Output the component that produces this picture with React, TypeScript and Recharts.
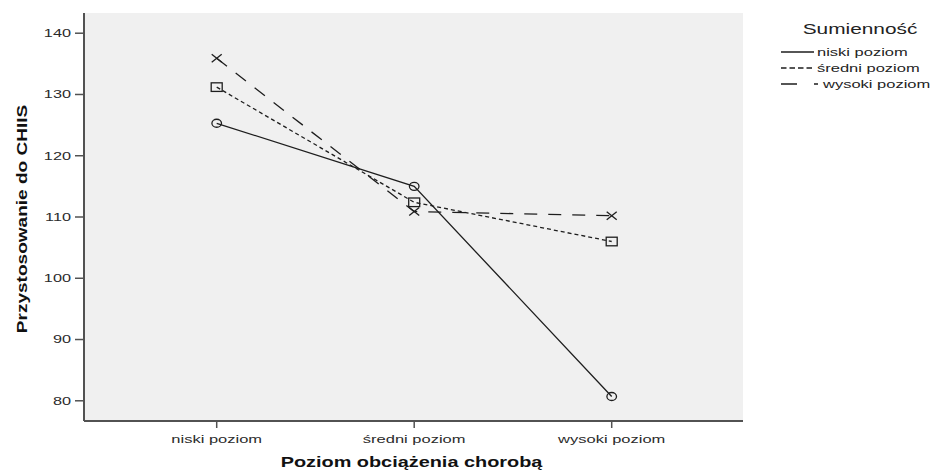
import React from 'react';
import { LineChart, Line, XAxis, YAxis, Legend, CartesianGrid } from 'recharts';

const categories = ['niski poziom', 'średni poziom', 'wysoki poziom'];
const niskiValues = [125.3, 115.0, 80.7];
const sredniValues = [131.2, 112.4, 106.0];
const wysokiValues = [135.9, 110.9, 110.2];
const yTicks = [80, 90, 100, 110, 120, 130, 140];
const yDomain: [number, number] = [76.7, 143.3];
const seriesKeys = ['niski', 'sredni', 'wysoki'];
const seriesNames = ['niski poziom', 'średni poziom', 'wysoki poziom'];
const legendTitle = 'Sumienność';
const xTitle = 'Poziom obciążenia chorobą';
const yTitle = 'Przystosowanie do CHIIS';

const data = categories.map((c, i) => ({
  cat: c,
  niski: niskiValues[i],
  sredni: sredniValues[i],
  wysoki: wysokiValues[i],
}));

const FONT = '"Liberation Sans", Arial, sans-serif';
const AXIS = '#525252';
const INK = '#1e1e1e';
const legendDash = ['0', '5.5 3', '16 17 4 10'];
const legendLineEnd = [39, 37, 43];
const legendTextX = [42, 42, 48];

function SText(props: any) {
  const { x, y, k = 1, size = 11, anchor = 'middle', bold = false, fill = '#2a2a2a', rotate = 0, children } = props;
  return (
    <g transform={`translate(${x},${y}) rotate(${rotate}) scale(${k},1)`}>
      <text
        x={0}
        y={0}
        textAnchor={anchor}
        dominantBaseline="central"
        fontFamily={FONT}
        fontSize={size}
        fontWeight={bold ? 'bold' : 'normal'}
        fill={fill}
      >
        {children}
      </text>
    </g>
  );
}

const renderXTick = (p: any) => (
  <SText x={p.x} y={p.y + 9} k={1.5} size={11} anchor="middle">
    {p.payload.value}
  </SText>
);

const renderYTick = (p: any) => (
  <SText x={p.x} y={p.y} k={1.48} size={11} anchor="end">
    {p.payload.value}
  </SText>
);

const renderXTitle = (p: any) => {
  const vb = p.viewBox || { x: 84, y: 421, width: 659, height: 51 };
  return (
    <SText x={vb.x + vb.width / 2 - 2} y={vb.y + 41} k={1.42} size={14} bold fill="#111">
      {xTitle}
    </SText>
  );
};

const renderYTitle = (p: any) => {
  const vb = p.viewBox || { x: 0, y: 13, width: 84, height: 408 };
  return (
    <SText x={22} y={vb.y + vb.height / 2 + 2} k={1.27} size={15} bold rotate={-90} fill="#111">
      {yTitle}
    </SText>
  );
};

const CircleDot = (p: any) => (
  <ellipse key={`c-${p.index}`} cx={p.cx} cy={p.cy} rx={4.8} ry={4} fill="none" stroke={INK} strokeWidth={1.3} />
);

const SquareDot = (p: any) => (
  <rect key={`s-${p.index}`} x={p.cx - 5.5} y={p.cy - 4.3} width={11} height={8.6} fill="none" stroke={INK} strokeWidth={1.3} />
);

const CrossDot = (p: any) => (
  <g key={`x-${p.index}`}>
    <line x1={p.cx - 5} y1={p.cy - 4} x2={p.cx + 5} y2={p.cy + 4} stroke={INK} strokeWidth={1.3} />
    <line x1={p.cx - 5} y1={p.cy + 4} x2={p.cx + 5} y2={p.cy - 4} stroke={INK} strokeWidth={1.3} />
  </g>
);

const renderLegend = (props: any) => {
  const payload = [...(props.payload || [])].sort(
    (a: any, b: any) => seriesKeys.indexOf(a.dataKey) - seriesKeys.indexOf(b.dataKey)
  );
  return (
    <svg width={170} height={80} style={{ display: 'block' }}>
      <SText x={85} y={11.5} k={1.49} size={14} anchor="middle" fill="#222">
        {legendTitle}
      </SText>
      {payload.map((entry: any, i: number) => {
        const idx = seriesKeys.indexOf(entry.dataKey);
        const j = idx >= 0 ? idx : i;
        const yy = 34 + 16 * i;
        return (
          <g key={`leg-${i}`}>
            <line
              x1={6}
              x2={legendLineEnd[j]}
              y1={yy}
              y2={yy}
              stroke={INK}
              strokeWidth={1.3}
              strokeDasharray={legendDash[j]}
            />
            <SText x={legendTextX[j]} y={yy} k={1.5} size={11} anchor="start" fill="#222">
              {entry.value}
            </SText>
          </g>
        );
      })}
    </svg>
  );
};

export default function App() {
  return (
    <div style={{ position: 'absolute', left: 0, top: 0, width: 945, height: 472, background: '#fff' }}>
      <LineChart width={945} height={472} data={data} margin={{ top: 13, right: 202, bottom: 0, left: 0 }}>
        <CartesianGrid fill="#f0f0f0" horizontal={false} vertical={false} />
        <XAxis
          dataKey="cat"
          type="category"
          height={51}
          padding={{ left: 132.7, right: 131.3 }}
          tickSize={7}
          tickMargin={2}
          tick={renderXTick}
          interval={0}
          axisLine={{ stroke: AXIS, strokeWidth: 2 }}
          tickLine={{ stroke: AXIS, strokeWidth: 1.5 }}
          label={{ content: renderXTitle }}
        />
        <XAxis
          xAxisId="top"
          orientation="top"
          type="number"
          domain={[0, 1]}
          height={0}
          tick={false}
          tickLine={false}
          axisLine={{ stroke: AXIS, strokeWidth: 2 }}
        />
        <YAxis
          type="number"
          domain={yDomain}
          ticks={yTicks}
          interval={0}
          width={84}
          tickSize={9}
          tickMargin={4}
          tick={renderYTick}
          axisLine={{ stroke: AXIS, strokeWidth: 2 }}
          tickLine={{ stroke: AXIS, strokeWidth: 1.5 }}
          label={{ content: renderYTitle }}
        />
        <YAxis
          yAxisId="right"
          orientation="right"
          type="number"
          domain={yDomain}
          width={0}
          tick={false}
          tickLine={false}
          axisLine={{ stroke: AXIS, strokeWidth: 2 }}
        />
        <Legend
          layout="vertical"
          align="center"
          verticalAlign="middle"
          content={renderLegend}
          wrapperStyle={{ left: 775, top: 18, width: 170, height: 80 }}
        />
        <Line
          name={seriesNames[0]}
          dataKey="niski"
          stroke={INK}
          strokeWidth={1.3}
          dot={CircleDot}
          activeDot={false}
          isAnimationActive={false}
        />
        <Line
          name={seriesNames[1]}
          dataKey="sredni"
          stroke={INK}
          strokeWidth={1.3}
          strokeDasharray="4 3"
          dot={SquareDot}
          activeDot={false}
          isAnimationActive={false}
        />
        <Line
          name={seriesNames[2]}
          dataKey="wysoki"
          stroke={INK}
          strokeWidth={1.3}
          strokeDasharray="13 11"
          dot={CrossDot}
          activeDot={false}
          isAnimationActive={false}
        />
      </LineChart>
    </div>
  );
}
